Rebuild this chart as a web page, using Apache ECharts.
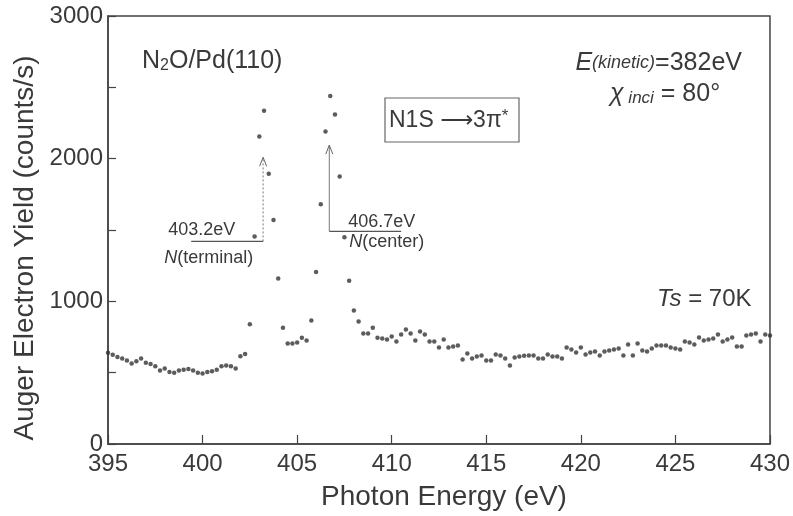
<!DOCTYPE html>
<html>
<head>
<meta charset="utf-8">
<script src="https://cdn.jsdelivr.net/npm/echarts@6/dist/echarts.min.js"></script>
<style>
  html, body { margin: 0; padding: 0; background: #fff; }
  #chart { width: 793px; height: 516px; }
</style>
</head>
<body>
<div id="chart"></div>
<script>
// Photon energy (eV) of each measured point
const energies = [
  395.00, 395.25, 395.50, 395.75, 396.00, 396.25, 396.50, 396.75, 397.00, 397.25,
  397.50, 397.75, 398.00, 398.25, 398.50, 398.75, 399.00, 399.25, 399.50, 399.75,
  400.00, 400.25, 400.50, 400.75, 401.00, 401.25, 401.50, 401.75, 402.00, 402.25,
  402.50, 402.75, 403.00, 403.25, 403.50, 403.75, 404.00, 404.25, 404.50, 404.75,
  405.00, 405.25, 405.50, 405.75, 406.00, 406.25, 406.50, 406.75, 407.00, 407.25,
  407.50, 407.75, 408.00, 408.25, 408.50, 408.75, 409.00, 409.25, 409.50, 409.75,
  410.00, 410.25, 410.50, 410.75, 411.00, 411.25, 411.50, 411.75, 412.00, 412.25,
  412.50, 412.75, 413.00, 413.25, 413.50, 413.75, 414.00, 414.25, 414.50, 414.75,
  415.00, 415.25, 415.50, 415.75, 416.00, 416.25, 416.50, 416.75, 417.00, 417.25,
  417.50, 417.75, 418.00, 418.25, 418.50, 418.75, 419.00, 419.25, 419.50, 419.75,
  420.00, 420.25, 420.50, 420.75, 421.00, 421.25, 421.50, 421.75, 422.00, 422.25,
  422.50, 422.75, 423.00, 423.25, 423.50, 423.75, 424.00, 424.25, 424.50, 424.75,
  425.00, 425.25, 425.50, 425.75, 426.00, 426.25, 426.50, 426.75, 427.00, 427.25,
  427.50, 427.75, 428.00, 428.25, 428.50, 428.75, 429.00, 429.25, 429.50, 429.75,
  430.00
];

// Auger electron yield (counts/s) at each energy
const yields = [
   640,  625,  610,  600,  585,  565,  580,  600,  570,  560,
   545,  515,  530,  505,  500,  515,  520,  525,  515,  500,
   495,  505,  510,  520,  545,  550,  545,  530,  615,  630,
   840, 1455, 2155, 2335, 1895, 1570, 1160,  815,  705,  705,
   712,  745,  725,  865, 1205, 1680, 2190, 2440, 2310, 1875,
  1450, 1145,  935,  858,  775,  775,  815,  745,  740,  733,
   754,  719,  768,  802,  775,  726,  789,  768,  719,  719,
   677,  733,  677,  684,  691,  593,  635,  600,  614,  621,
   586,  586,  628,  621,  600,  551,  607,  614,  618,  621,
   621,  600,  600,  628,  614,  614,  600,  677,  663,  642,
   677,  628,  642,  649,  621,  649,  656,  663,  670,  621,
   698,  621,  705,  656,  649,  670,  691,  691,  691,  677,
   670,  663,  719,  712,  698,  746,  726,  733,  740,  768,
   719,  733,  746,  684,  684,  761,  768,  775,  719,  768,
   760
];

// Axis tick values
const xTickValues = [395, 400, 405, 410, 415, 420, 425, 430];
const yTickLabels = [0, 1000, 2000, 3000];

// Resonance assignments: peak energy, label and site
const resonanceEnergies = [403.2, 406.7];
const resonanceLabels = ['403.2eV', '406.7eV'];
const resonanceSites = ['terminal', 'center'];

const FONT = '"Liberation Sans", Arial, Helvetica, sans-serif';
const INK = '#3a3a3a';

const chart = echarts.init(document.getElementById('chart'), null, { renderer: 'canvas' });

chart.setOption({
  animation: false,
  backgroundColor: '#ffffff',
  textStyle: { fontFamily: FONT, color: INK },
  grid: {
    left: 108, right: 22, top: 16, bottom: 70,
    show: true, borderColor: '#444', borderWidth: 1.5, backgroundColor: 'transparent'
  },
  xAxis: {
    type: 'value',
    min: xTickValues[0],
    max: xTickValues[xTickValues.length - 1],
    interval: 5,
    name: 'Photon Energy (eV)',
    nameLocation: 'middle',
    nameGap: 39,
    nameTextStyle: { fontSize: 28, color: INK, fontFamily: FONT, padding: [0, 0, 0, 10] },
    axisLine: { show: true, lineStyle: { color: '#444', width: 1.5 } },
    axisTick: { show: true, inside: true, length: 9, lineStyle: { color: '#444', width: 1.2 } },
    axisLabel: { fontSize: 24, color: INK, margin: 8, fontFamily: FONT },
    splitLine: { show: false }
  },
  yAxis: {
    type: 'value',
    min: 0,
    max: 3000,
    interval: 500,
    axisLine: { show: true, lineStyle: { color: '#444', width: 1.5 } },
    axisTick: { show: true, inside: true, length: 8, lineStyle: { color: '#444', width: 1.2 } },
    axisLabel: {
      fontSize: 24, color: INK, margin: 5, fontFamily: FONT,
      formatter: v => (yTickLabels.indexOf(v) >= 0 ? String(v) : '')
    },
    splitLine: { show: false }
  },
  series: [{
    type: 'scatter',
    data: energies.map((e, i) => [e, yields[i]]),
    symbol: 'circle',
    symbolSize: 4.5,
    itemStyle: { color: '#333333' },
    silent: true
  }]
});

// Annotation geometry for the two resonance markers (data units)
const markerBase = [1420, 1490];      // height of the horizontal leader
const markerTip = [2010, 2095];       // height of the arrow tip
const markerEnd = [399.4, 410.5];     // far end of the horizontal leader

const px = (x, y) => chart.convertToPixel({ gridIndex: 0 }, [x, y]);

const graphics = [];

// Vertical axis title
graphics.push({
  type: 'text', x: 25, y: 248, rotation: Math.PI / 2,
  style: {
    text: 'Auger Electron Yield (counts/s)', fontSize: 28, fontFamily: FONT, fill: INK,
    align: 'center', verticalAlign: 'middle'
  }
});

resonanceEnergies.forEach((e, i) => {
  const a = px(markerEnd[i], markerBase[i]);
  const b = px(e, markerBase[i]);
  const t = px(e, markerTip[i]);
  graphics.push({
    type: 'polyline',
    shape: { points: [[a[0], a[1]], [b[0], b[1]]] },
    style: { stroke: '#555', lineWidth: 1.2, fill: null }
  });
  graphics.push({
    type: 'polyline',
    shape: { points: [[b[0], b[1]], [t[0], t[1]]] },
    style: { stroke: '#777', lineWidth: 1, fill: null, lineDash: i === 0 ? [2, 2] : null }
  });
  graphics.push({
    type: 'polyline',
    shape: { points: [[t[0] - 3.5, t[1] + 9], [t[0], t[1]], [t[0] + 3.5, t[1] + 9]] },
    style: { stroke: '#666', lineWidth: 1, fill: null }
  });
  const left = i === 0;
  graphics.push({
    type: 'text',
    x: left ? a[0] - 23 : b[0] + 19,
    y: a[1] - (left ? 11 : 9),
    style: {
      text: resonanceLabels[i], fontSize: 18, fontFamily: FONT, fill: INK,
      verticalAlign: 'middle', align: 'left'
    }
  });
  graphics.push({
    type: 'text',
    x: left ? a[0] - 27 : b[0] + 20,
    y: a[1] + (left ? 17 : 11),
    style: {
      text: '{i|N}{n|(' + resonanceSites[i] + ')}',
      verticalAlign: 'middle', align: 'left',
      rich: {
        i: { fontSize: 18, fontStyle: 'italic', fontFamily: FONT, fill: INK },
        n: { fontSize: 18, fontFamily: FONT, fill: INK }
      }
    }
  });
});

// Sample and measurement conditions
graphics.push({
  type: 'text', x: 142, y: 61,
  style: {
    text: '{a|N}{s|2}{a|O/Pd(110)}',
    verticalAlign: 'middle', align: 'left',
    rich: {
      a: { fontSize: 25, fontFamily: FONT, fill: INK },
      s: { fontSize: 16, fontFamily: FONT, fill: INK, verticalAlign: 'bottom', padding: [6, 0, 0, 0] }
    }
  }
});
graphics.push({
  type: 'rect',
  shape: { x: 385, y: 98, width: 134, height: 44 },
  style: { stroke: '#666', lineWidth: 1.2, fill: null }
});
graphics.push({
  type: 'text', x: 389, y: 121,
  style: {
    text: '{t|N1S }{ar|\u27F6}{t|3\u03C0}{sup|*}',
    verticalAlign: 'middle', align: 'left',
    rich: {
      t: { fontSize: 23, fontFamily: FONT, fill: INK },
      ar: { fontSize: 23, fontFamily: '"DejaVu Sans", sans-serif', fill: INK },
      sup: { fontSize: 17, fontFamily: FONT, fill: INK, verticalAlign: 'top', padding: [0, 0, 10, 0] }
    }
  }
});
graphics.push({
  type: 'text', x: 742, y: 63,
  style: {
    text: '{e|E}{k|(kinetic)}{n|=382eV}',
    verticalAlign: 'middle', align: 'right',
    rich: {
      e: { fontSize: 25, fontStyle: 'italic', fontFamily: FONT, fill: INK },
      k: { fontSize: 18, fontStyle: 'italic', fontFamily: FONT, fill: INK },
      n: { fontSize: 25, fontFamily: FONT, fill: INK }
    }
  }
});
graphics.push({
  type: 'text', x: 610, y: 94,
  style: {
    text: '{c|\u03C7}{i| inci}{n| = 80\u00B0}',
    verticalAlign: 'middle', align: 'left',
    rich: {
      c: { fontSize: 25, fontStyle: 'italic', fontFamily: FONT, fill: INK },
      i: { fontSize: 17, fontStyle: 'italic', fontFamily: FONT, fill: INK, verticalAlign: 'bottom', padding: [6, 0, 0, 0] },
      n: { fontSize: 25, fontFamily: FONT, fill: INK }
    }
  }
});
graphics.push({
  type: 'text', x: 657, y: 299,
  style: {
    text: '{t|Ts}{n| = 70K}',
    verticalAlign: 'middle', align: 'left',
    rich: {
      t: { fontSize: 24, fontStyle: 'italic', fontFamily: FONT, fill: INK },
      n: { fontSize: 24, fontFamily: FONT, fill: INK }
    }
  }
});

chart.setOption({ graphic: graphics });
</script>
</body>
</html>
